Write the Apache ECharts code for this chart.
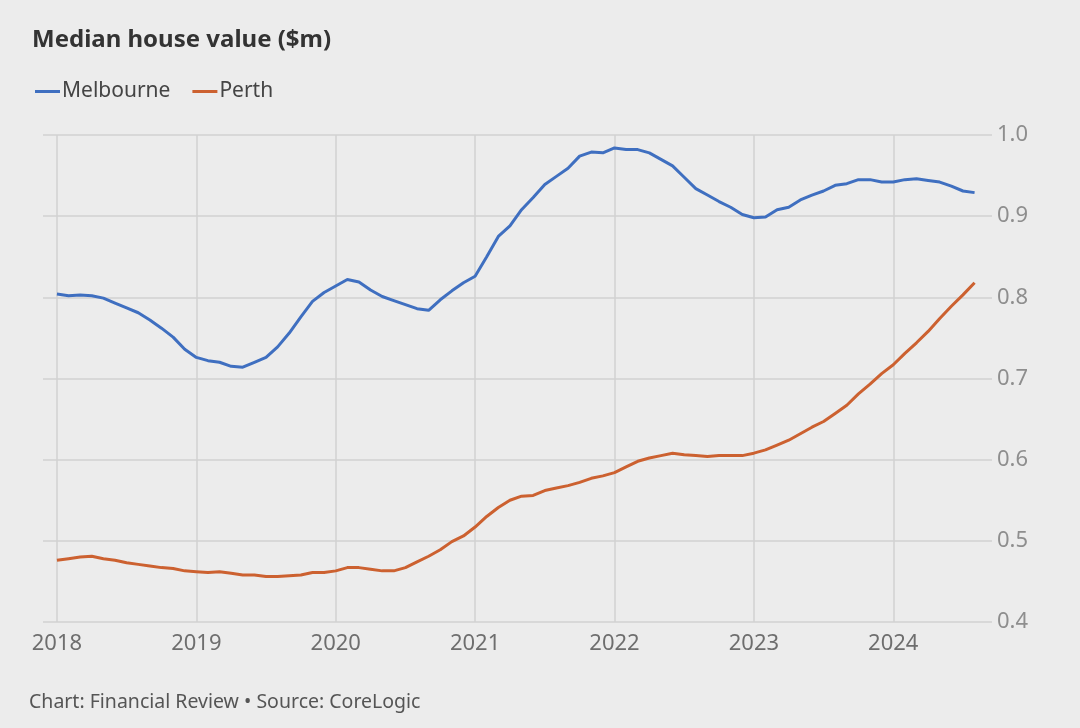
<!DOCTYPE html>
<html>
<head>
<meta charset="utf-8">
<script src="https://cdn.jsdelivr.net/npm/echarts@6/dist/echarts.min.js"></script>
<style>
html,body{margin:0;padding:0;background:#ececec;}
#chart{width:1080px;height:728px;}
</style>
</head>
<body>
<div id="chart"></div>
<script>
// Monthly observations, Jan 2018 .. Aug 2024
const startYear = 2018;
const yearTicks = ['2018','2019','2020','2021','2022','2023','2024'];
const yTicks = [0.4, 0.5, 0.6, 0.7, 0.8, 0.9, 1.0];

const melbourne = [
  0.804,0.802,0.803,0.802,0.799,0.793,0.787,0.781,0.772,0.762,0.751,0.736,
  0.726,0.722,0.720,0.715,0.714,0.720,0.726,0.739,0.756,0.776,0.795,0.806,
  0.814,0.822,0.819,0.809,0.801,0.796,0.791,0.786,0.784,0.797,0.808,0.818,
  0.826,0.850,0.875,0.888,0.908,0.923,0.939,0.949,0.959,0.974,0.979,0.978,
  0.984,0.982,0.982,0.978,0.970,0.962,0.948,0.934,0.926,0.918,0.911,0.902,
  0.898,0.899,0.908,0.911,0.920,0.926,0.931,0.938,0.940,0.945,0.945,0.942,
  0.942,0.945,0.946,0.944,0.942,0.937,0.931,0.929
];
const perth = [
  0.476,0.478,0.480,0.481,0.478,0.476,0.473,0.471,0.469,0.467,0.466,0.463,
  0.462,0.461,0.462,0.460,0.458,0.458,0.456,0.456,0.457,0.458,0.461,0.461,
  0.463,0.467,0.467,0.465,0.463,0.463,0.467,0.474,0.481,0.489,0.499,0.506,
  0.517,0.530,0.541,0.550,0.555,0.556,0.562,0.565,0.568,0.572,0.577,0.580,
  0.584,0.591,0.598,0.602,0.605,0.608,0.606,0.605,0.604,0.605,0.605,0.605,
  0.608,0.612,0.618,0.624,0.632,0.640,0.647,0.657,0.667,0.681,0.693,0.706,
  0.717,0.731,0.744,0.758,0.774,0.789,0.803,0.818
];

const yearTickValues = yearTicks.map((y) => (parseInt(y, 10) - startYear) * 12);
const toPairs = (arr) => arr.map((v, i) => [i, v]);

const chart = echarts.init(document.getElementById('chart'), null, {renderer: 'canvas'});
const font = '"Noto Sans", "Open Sans", sans-serif';

chart.setOption({
  animation: false,
  backgroundColor: '#ececec',
  title: {
    text: 'Median house value ($m)',
    left: 27, top: 23,
    textStyle: {fontFamily: font, fontSize: 24, fontWeight: 'bold', color: '#333333'}
  },
  legend: {
    left: 30, top: 76,
    itemWidth: 25, itemHeight: 3, itemGap: 22,
    icon: 'rect',
    textStyle: {fontFamily: font, fontSize: 21, color: '#444444', padding: [0, 0, 0, -3]},
    data: ['Melbourne', 'Perth']
  },
  graphic: [{
    type: 'text', left: 29, top: 692,
    style: {text: 'Chart: Financial Review • Source: CoreLogic', fontFamily: font, fontSize: 19.5, fill: '#555555'}
  }],
  grid: {left: 43, right: 88, top: 135, bottom: 106, containLabel: false},
  xAxis: {
    type: 'value',
    min: -1.2, max: 80.5,
    axisLine: {show: false},
    axisTick: {show: false, customValues: yearTickValues},
    axisLabel: {
      customValues: yearTickValues,
      formatter: (v) => String(startYear + Math.round(v / 12)),
      fontFamily: font, fontSize: 22, color: '#6e6e6e', margin: 11
    },
    splitLine: {show: true, lineStyle: {color: '#d2d2d2', width: 1.5}}
  },
  yAxis: {
    type: 'value',
    position: 'right',
    min: yTicks[0], max: yTicks[yTicks.length - 1], interval: 0.1,
    axisLine: {show: false},
    axisTick: {show: false},
    axisLabel: {
      formatter: (v) => v.toFixed(1),
      fontFamily: font, fontSize: 22, color: '#8e8e8e', margin: 5
    },
    splitLine: {show: true, lineStyle: {color: '#d2d2d2', width: 1.5}}
  },
  series: [
    {
      name: 'Melbourne', type: 'line', data: toPairs(melbourne),
      showSymbol: false, symbol: 'none',
      lineStyle: {color: '#3f6fc0', width: 3}, itemStyle: {color: '#3f6fc0'}
    },
    {
      name: 'Perth', type: 'line', data: toPairs(perth),
      showSymbol: false, symbol: 'none',
      lineStyle: {color: '#cc6130', width: 3}, itemStyle: {color: '#cc6130'}
    }
  ]
});
</script>
</body>
</html>
